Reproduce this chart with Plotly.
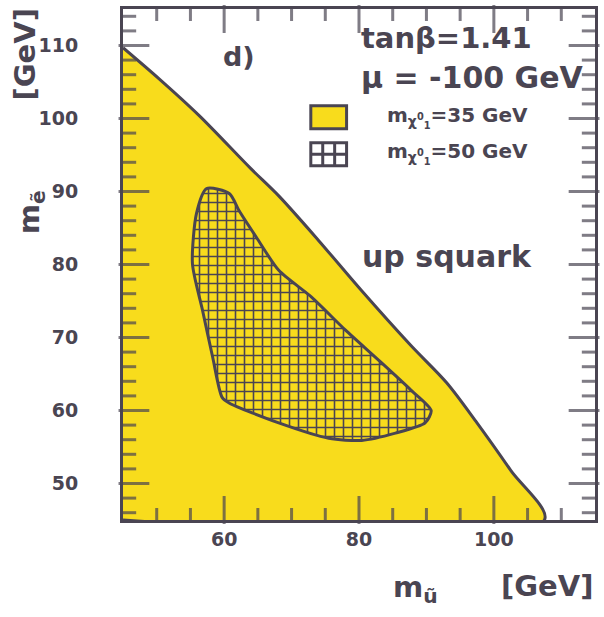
import plotly.graph_objects as go

# Axis ranges (GeV)
X_RANGE = [45, 115]
Y_RANGE = [45, 115]

# Upper edge of the region for m_chi = 35 GeV (m_u~ , m_e~)
CHI35_X = [45.0, 50.4, 56.3, 64.0, 68.1, 74.0, 80.4, 87.7, 93.0, 97.5, 102.5, 107.5]
CHI35_Y = [109.7, 105.4, 100.4, 93.1, 89.4, 83.3, 76.4, 68.9, 63.8, 58.3, 51.8, 45.0]

# Closed contour of the region for m_chi = 50 GeV
CHI50_X = [57.4, 60.8, 62.2, 64.8, 68.1, 73.0, 78.0, 82.9, 87.7, 90.7, 89.8,
           85.4, 80.4, 75.5, 68.1, 60.8, 59.7, 58.3, 56.8, 55.3, 55.9]
CHI50_Y = [90.4, 89.7, 87.4, 83.7, 79.2, 75.5, 71.0, 66.9, 62.8, 60.0, 58.3,
           56.9, 55.9, 56.2, 58.3, 61.0, 61.8, 67.3, 73.7, 80.1, 87.0]

# tick spacing (major, minor)
X_DTICK, X_MINOR = 20, 5
Y_DTICK, Y_MINOR = 10, 2

DARK = "#4a4552"
YELLOW = "#f8dc1c"
FONT = "DejaVu Sans"

W, H = 604, 617
ML, MR, MT, MB = 123, 6, 8, 97
PW, PH = W - ML - MR, H - MT - MB


def px(x):
    return (x - ML) / PW


def py(y):
    return (H - MB - y) / PH


fig = go.Figure()

# yellow region: curve closed along the lower-left axes corner
fig.add_trace(go.Scatter(
    x=CHI35_X + [X_RANGE[0]],
    y=CHI35_Y + [Y_RANGE[0]],
    mode="lines", fill="toself", fillcolor=YELLOW,
    line=dict(color=DARK, width=3, shape="spline", smoothing=0.9),
    hoverinfo="skip", showlegend=False,
))

# hatched region
fig.add_trace(go.Scatter(
    x=CHI50_X + CHI50_X[:1],
    y=CHI50_Y + CHI50_Y[:1],
    mode="lines", fill="toself", fillcolor=YELLOW,
    fillpattern=dict(shape="+", size=9, solidity=0.32, fgcolor=DARK,
                     bgcolor=YELLOW, fillmode="replace"),
    line=dict(color=DARK, width=3, shape="spline", smoothing=0.7),
    hoverinfo="skip", showlegend=False,
))

# inward tick marks drawn as line-shaped markers centred half a tick inside
gx = (X_RANGE[1] - X_RANGE[0]) / PW
gy = (Y_RANGE[1] - Y_RANGE[0]) / PH
vx, vy, vs = [], [], []
for v in range(X_RANGE[0] + X_MINOR, X_RANGE[1], X_MINOR):
    L = 20 if v % X_DTICK == 0 else 10
    vx += [v, v]
    vy += [Y_RANGE[0] + L / 2 * gy, Y_RANGE[1] - L / 2 * gy]
    vs += [L, L]
hx, hy, hs = [], [], []
for v in range(Y_RANGE[0] + 1, Y_RANGE[1], Y_MINOR):
    L = 22 if v % Y_DTICK == 0 else 11
    hx += [X_RANGE[0] + L / 2 * gx, X_RANGE[1] - L / 2 * gx]
    hy += [v, v]
    hs += [L, L]
fig.add_trace(go.Scatter(
    x=vx, y=vy, mode="markers", cliponaxis=False,
    marker=dict(symbol="line-ns", size=vs, line=dict(color=DARK, width=3)),
    hoverinfo="skip", showlegend=False,
))
fig.add_trace(go.Scatter(
    x=hx, y=hy, mode="markers", cliponaxis=False,
    marker=dict(symbol="line-ew", size=hs, line=dict(color=DARK, width=3)),
    hoverinfo="skip", showlegend=False,
))

axis_common = dict(
    showgrid=False, zeroline=False, showline=True, linewidth=3,
    linecolor=DARK, mirror=True, ticks="", tickmode="linear", tick0=0,
    tickfont=dict(family=FONT, size=19, color=DARK, weight="bold"),
)

fig.update_xaxes(range=X_RANGE, dtick=X_DTICK, **axis_common)
fig.update_yaxes(range=Y_RANGE, dtick=Y_DTICK,
                 ticksuffix="\u2003\u2003", **axis_common)

shapes = []
ann = []


def text(s, x, y, size, xanchor="left", yanchor="middle", angle=0):
    ann.append(dict(text="<b>" + s + "</b>", x=px(x), y=py(y),
                    xref="paper", yref="paper",
                    xanchor=xanchor, yanchor=yanchor, showarrow=False,
                    textangle=angle,
                    font=dict(family=FONT, size=size, color=DARK)))


text("tanβ=1.41", 360, 37, 29)
text("μ = -100 GeV", 360, 77, 30)
text("d)", 222, 56, 27)
text("up squark", 362, 256, 30)
text("m<sub>χ<sup>0</sup><sub>1</sub></sub>=35 GeV", 387, 116, 20)
text("m<sub>χ<sup>0</sup><sub>1</sub></sub>=50 GeV", 387, 152, 20)

# axis titles
text("m<sub>ũ</sub>", 393, 589, 29)
text("[GeV]", 598, 586, 29, xanchor="right")
text("m<sub>ẽ</sub>", 30, 212, 29, xanchor="center", angle=-90)
text("[GeV]", 24, 54, 29, xanchor="center", angle=-90)


def seg(x0, y0, x1, y1):
    shapes.append(dict(type="line", xref="paper", yref="paper",
                       x0=x0, y0=y0, x1=x1, y1=y1,
                       line=dict(color=DARK, width=3)))


# legend: filled box
shapes.append(dict(type="rect", xref="paper", yref="paper",
                   x0=px(312), x1=px(348), y0=py(128), y1=py(105),
                   fillcolor=YELLOW, line=dict(color=DARK, width=3)))
# legend: hatched box
shapes.append(dict(type="rect", xref="paper", yref="paper",
                   x0=px(312), x1=px(348), y0=py(165), y1=py(142),
                   fillcolor="white", line=dict(color=DARK, width=3)))
for fx in (324, 336):
    seg(px(fx), py(165), px(fx), py(142))
seg(px(312), py(153.5), px(348), py(153.5))

fig.update_layout(
    width=W, height=H,
    margin=dict(l=ML, r=MR, t=MT, b=MB),
    paper_bgcolor="white", plot_bgcolor="white",
    annotations=ann, shapes=shapes,
    showlegend=False,
)

fig.write_html("out.html")
